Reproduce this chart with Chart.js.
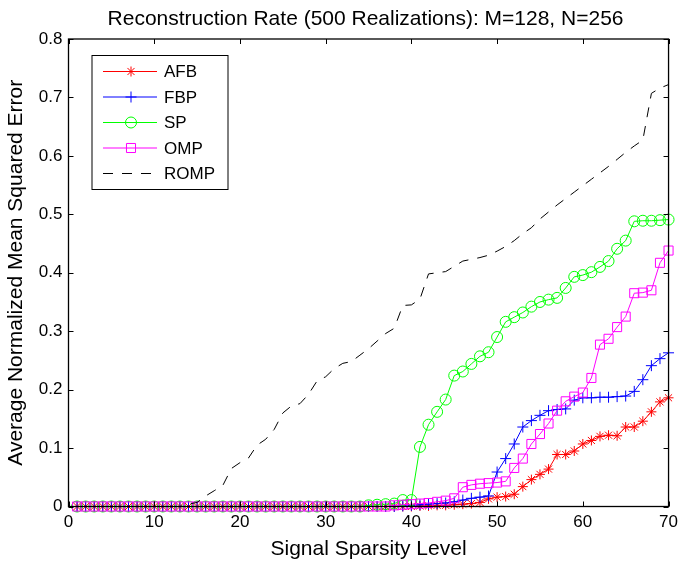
<!DOCTYPE html>
<html>
<head>
<meta charset="utf-8">
<script src="https://cdn.jsdelivr.net/npm/chart.js@4.4.1/dist/chart.umd.min.js"></script>
<style>
  html, body { margin: 0; padding: 0; background: #fff; }
</style>
</head>
<body>
<canvas id="mseChart" width="684" height="566"></canvas>
<script>
// signal sparsity levels (x axis)
var sparsity = [
   1,  2,  3,  4,  5,  6,  7,  8,  9, 10,
  11, 12, 13, 14, 15, 16, 17, 18, 19, 20,
  21, 22, 23, 24, 25, 26, 27, 28, 29, 30,
  31, 32, 33, 34, 35, 36, 37, 38, 39, 40,
  41, 42, 43, 44, 45, 46, 47, 48, 49, 50,
  51, 52, 53, 54, 55, 56, 57, 58, 59, 60,
  61, 62, 63, 64, 65, 66, 67, 68, 69, 70
];

// average normalized mean squared error per algorithm
var afb = [
  0, 0, 0, 0, 0, 0, 0, 0, 0, 0,
  0, 0, 0, 0, 0, 0, 0, 0, 0, 0,
  0, 0, 0, 0, 0, 0, 0, 0, 0, 0,
  0, 0, 0, 0, 0, 0, 0, 0, 0, 0,
  0.001, 0.001, 0.002, 0.002, 0.003, 0.004, 0.005, 0.007, 0.013, 0.016,
  0.017, 0.021, 0.034, 0.046, 0.055, 0.064, 0.089, 0.089, 0.095, 0.107,
  0.113, 0.120, 0.122, 0.121, 0.136, 0.136, 0.146, 0.162, 0.179, 0.186
];
var fbp = [
  0, 0, 0, 0, 0, 0, 0, 0, 0, 0,
  0, 0, 0, 0, 0, 0, 0, 0, 0, 0,
  0, 0, 0, 0, 0, 0, 0, 0, 0, 0,
  0, 0, 0, 0, 0, 0, 0, 0, 0.001, 0.002,
  0.003, 0.004, 0.005, 0.006, 0.008, 0.011, 0.014, 0.016, 0.018, 0.059,
  0.082, 0.107, 0.136, 0.147, 0.156, 0.164, 0.166, 0.167, 0.182, 0.186,
  0.186, 0.187, 0.187, 0.188, 0.189, 0.197, 0.217, 0.241, 0.253, 0.263
];
var sp = [
  0, 0, 0, 0, 0, 0, 0, 0, 0, 0,
  0, 0, 0, 0, 0, 0, 0, 0, 0, 0,
  0, 0, 0, 0, 0, 0, 0, 0, 0, 0,
  0, 0, 0, 0, 0.002, 0.003, 0.004, 0.005, 0.011, 0.011,
  0.102, 0.140, 0.162, 0.183, 0.224, 0.231, 0.244, 0.257, 0.264, 0.290,
  0.316, 0.324, 0.332, 0.342, 0.350, 0.354, 0.357, 0.374, 0.393, 0.396,
  0.401, 0.410, 0.420, 0.441, 0.455, 0.488, 0.489, 0.489, 0.490, 0.491
];
var omp = [
  0, 0, 0, 0, 0, 0, 0, 0, 0, 0,
  0, 0, 0, 0, 0, 0, 0, 0, 0, 0,
  0, 0, 0, 0, 0, 0, 0, 0, 0, 0,
  0, 0, 0, 0, 0, 0, 0, 0.002, 0.003, 0.004,
  0.005, 0.006, 0.008, 0.010, 0.014, 0.033, 0.037, 0.039, 0.040, 0.041,
  0.043, 0.066, 0.082, 0.107, 0.124, 0.142, 0.164, 0.180, 0.188, 0.195,
  0.220, 0.277, 0.287, 0.307, 0.325, 0.365, 0.366, 0.370, 0.417, 0.438
];
var romp = [
  0, 0, 0, 0, 0, 0, 0, 0, 0, 0,
  0, 0, 0, 0.004, 0.007, 0.018, 0.027, 0.036, 0.065, 0.075,
  0.083, 0.105, 0.115, 0.132, 0.160, 0.172, 0.176, 0.192, 0.215, 0.222,
  0.236, 0.245, 0.248, 0.259, 0.270, 0.283, 0.296, 0.305, 0.344, 0.345,
  0.355, 0.398, 0.400, 0.402, 0.411, 0.420, 0.423, 0.426, 0.430, 0.437,
  0.445, 0.455, 0.467, 0.477, 0.492, 0.504, 0.516, 0.527, 0.538, 0.549,
  0.560, 0.571, 0.582, 0.594, 0.606, 0.617, 0.627, 0.707, 0.716, 0.722
];

var xTicks = [0, 10, 20, 30, 40, 50, 60, 70];
var yTicks = [0, 0.1, 0.2, 0.3, 0.4, 0.5, 0.6, 0.7, 0.8];

var FONT = "'Liberation Sans', Arial, Helvetica, sans-serif";
var TITLE = 'Reconstruction Rate (500 Realizations): M=128, N=256';

function pts(values) {
  return sparsity.map(function (s, i) { return { x: s, y: values[i] }; });
}

function series(label, values, color, style, radius, order) {
  return {
    label: label,
    data: pts(values),
    borderColor: color,
    backgroundColor: 'rgba(0,0,0,0)',
    borderWidth: 1,
    pointStyle: style,
    pointRadius: radius,
    pointBorderColor: color,
    pointBackgroundColor: 'rgba(0,0,0,0)',
    pointBorderWidth: 1,
    tension: 0,
    clip: false,
    order: order
  };
}

// title centred over the axes, as matlab does
var plotTitle = {
  id: 'plotTitle',
  afterDraw: function (chart) {
    var ctx = chart.ctx;
    var a = chart.chartArea;
    ctx.save();
    ctx.fillStyle = '#000';
    ctx.font = '21px ' + FONT;
    ctx.textAlign = 'center';
    ctx.textBaseline = 'alphabetic';
    ctx.fillText(TITLE, (a.left + a.right) / 2 - 3, 25);
    ctx.restore();
  }
};

// legend box drawn inside the axes, like matlab's 'NorthWest' legend
var boxLegend = {
  id: 'boxLegend',
  afterDraw: function (chart) {
    var ctx = chart.ctx;
    var a = chart.chartArea;
    var x0 = a.left + 23.5, y0 = a.top + 16.5, w = 136, h = 134;
    ctx.save();
    ctx.fillStyle = '#fff';
    ctx.fillRect(x0, y0, w, h);
    ctx.strokeStyle = '#000';
    ctx.lineWidth = 1;
    ctx.strokeRect(x0, y0, w, h);
    ctx.font = '17px ' + FONT;
    ctx.textBaseline = 'middle';
    chart.data.datasets.forEach(function (ds, row) {
      var y = y0 + 16 + row * 25.5;
      ctx.strokeStyle = ds.borderColor;
      ctx.lineWidth = 1;
      ctx.setLineDash(ds.borderDash || []);
      ctx.beginPath();
      ctx.moveTo(x0 + 11, y);
      ctx.lineTo(x0 + 65, y);
      ctx.stroke();
      ctx.setLineDash([]);
      if (ds.pointRadius > 0) {
        ctx.fillStyle = 'rgba(0,0,0,0)';
        Chart.helpers.drawPoint(ctx, {
          pointStyle: ds.pointStyle,
          radius: ds.pointRadius,
          rotation: 0,
          borderWidth: 1
        }, x0 + 39, y);
      }
      ctx.fillStyle = '#000';
      ctx.fillText(ds.label, x0 + 72, y + 1);
    });
    ctx.restore();
  }
};

// box around the axes with inward tick marks on all four sides
var axesBox = {
  id: 'axesBox',
  afterDatasetsDraw: function (chart) {
    var ctx = chart.ctx;
    var a = chart.chartArea;
    var sx = chart.scales.x, sy = chart.scales.y;
    var len = 5;
    ctx.save();
    ctx.strokeStyle = '#000';
    ctx.lineWidth = 1;
    ctx.beginPath();
    xTicks.forEach(function (v) {
      var px = Math.round(sx.getPixelForValue(v)) + 0.5;
      ctx.moveTo(px, a.bottom); ctx.lineTo(px, a.bottom - len);
      ctx.moveTo(px, a.top); ctx.lineTo(px, a.top + len);
    });
    yTicks.forEach(function (v) {
      var py = Math.round(sy.getPixelForValue(v)) + 0.5;
      ctx.moveTo(a.left, py); ctx.lineTo(a.left + len, py);
      ctx.moveTo(a.right, py); ctx.lineTo(a.right - len, py);
    });
    ctx.stroke();
    ctx.lineWidth = 1.3;
    ctx.strokeRect(a.left, a.top, a.right - a.left, a.bottom - a.top);
    ctx.restore();
  }
};

Chart.defaults.color = '#000';
Chart.defaults.font.family = FONT;

var ctx = document.getElementById('mseChart').getContext('2d');
var mseChart = new Chart(ctx, {
  type: 'line',
  data: {
    datasets: [
      series('AFB', afb, '#ff0000', 'star', 5, 5),
      series('FBP', fbp, '#0000ff', 'cross', 5.5, 4),
      series('SP', sp, '#00ff00', 'circle', 5.5, 3),
      series('OMP', omp, '#ff00ff', 'rect', 6.4, 2),
      Object.assign(series('ROMP', romp, '#000000', 'circle', 0, 1), { borderDash: [10, 9] })
    ]
  },
  options: {
    responsive: false,
    animation: false,
    layout: { padding: { left: 0, right: 10, top: 39, bottom: 0 } },
    plugins: {
      legend: { display: false },
      tooltip: { enabled: false },
      title: { display: false }
    },
    scales: {
      x: {
        type: 'linear',
        min: 0,
        max: 70,
        grid: { display: false, drawTicks: false },
        border: { display: false },
        afterBuildTicks: function (scale) {
          scale.ticks = xTicks.map(function (v) { return { value: v }; });
        },
        afterFit: function (scale) { scale.height = 59.5; },
        ticks: { padding: 6, maxRotation: 0, font: { size: 17 } },
        title: {
          display: true,
          text: 'Signal Sparsity Level',
          font: { size: 21 },
          padding: { top: 0, bottom: 4 }
        }
      },
      y: {
        type: 'linear',
        min: 0,
        max: 0.8,
        grid: { display: false, drawTicks: false },
        border: { display: false },
        afterBuildTicks: function (scale) {
          scale.ticks = yTicks.map(function (v) { return { value: v }; });
        },
        afterFit: function (scale) { scale.width = 68.5; },
        ticks: {
          padding: 6,
          font: { size: 17 },
          callback: function (v) { return String(Math.round(v * 10) / 10); }
        },
        title: {
          display: true,
          text: 'Average Normalized Mean Squared Error',
          font: { size: 21 },
          padding: { top: 4, bottom: 0 }
        }
      }
    }
  },
  plugins: [axesBox, boxLegend, plotTitle]
});
</script>
</body>
</html>
